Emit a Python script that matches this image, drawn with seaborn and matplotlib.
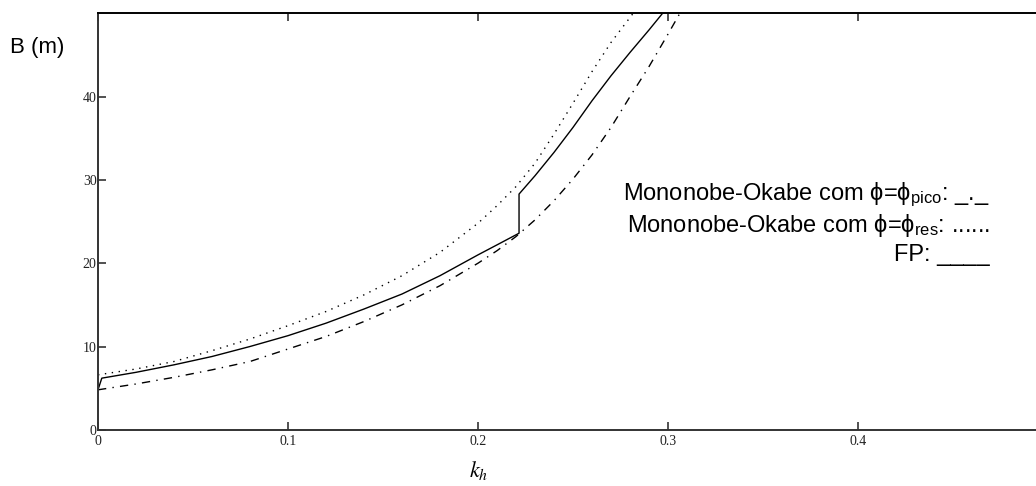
import numpy as np
import pandas as pd
import matplotlib
matplotlib.use("Agg")
import matplotlib.pyplot as plt
import seaborn as sns

# ---- data ----
k_pico = [0.0, 0.02, 0.04, 0.06, 0.08, 0.10, 0.12, 0.14, 0.16, 0.18, 0.20, 0.21, 0.22,
          0.23, 0.24, 0.25, 0.26, 0.27, 0.28, 0.29, 0.30, 0.31]
B_pico = [4.8, 5.5, 6.3, 7.2, 8.2, 9.7, 11.2, 13.0, 15.0, 17.3, 20.0, 21.5, 23.2,
          25.2, 27.5, 30.1, 33.0, 36.3, 40.0, 43.6, 47.5, 51.5]

k_res = [0.0, 0.02, 0.04, 0.06, 0.08, 0.10, 0.12, 0.14, 0.16, 0.18, 0.20, 0.21, 0.22,
         0.23, 0.24, 0.25, 0.26, 0.27, 0.28, 0.29]
B_res = [6.6, 7.3, 8.2, 9.5, 10.9, 12.5, 14.2, 16.2, 18.5, 21.3, 24.8, 26.9, 29.2,
         32.0, 35.5, 39.2, 43.0, 46.5, 49.5, 52.5]

k_fp = [0.0, 0.002, 0.02, 0.04, 0.06, 0.08, 0.10, 0.12, 0.14, 0.16, 0.18, 0.20, 0.21,
        0.2216, 0.2216, 0.23, 0.24, 0.25, 0.26, 0.27, 0.28, 0.29, 0.30]
B_fp = [4.8, 6.2, 6.9, 7.8, 8.8, 10.0, 11.3, 12.8, 14.5, 16.3, 18.5, 21.0, 22.2,
        23.6, 28.3, 30.5, 33.3, 36.3, 39.5, 42.5, 45.3, 48.0, 50.8]

x_ticks = [0.0, 0.1, 0.2, 0.3, 0.4]
x_ticklabels = ["0", "0.1", "0.2", "0.3", "0.4"]
y_ticks = [0, 10, 20, 30, 40]
y_ticklabels = ["0", "10", "20", "30", "40"]

legend_lines = [
    "Mononobe-Okabe com ϕ=ϕ$_{\\mathrm{pico}}$: _._",
    "Mononobe-Okabe com ϕ=ϕ$_{\\mathrm{res}}$: ......",
    "FP: ____",
]

sns.set_theme(style="white")
plt.rcParams["font.family"] = ["Liberation Sans", "DejaVu Sans"]
plt.rcParams["mathtext.fontset"] = "custom"
plt.rcParams["mathtext.rm"] = "Liberation Sans"
plt.rcParams["mathtext.it"] = "Liberation Sans:italic"
plt.rcParams["text.color"] = "black"

fig = plt.figure(figsize=(10.36, 4.86), dpi=100)
ax = fig.add_axes([98 / 1036, (486 - 429.8) / 486, 950 / 1036, 416.5 / 486])

df_pico = pd.DataFrame({"k": k_pico, "B": B_pico})
df_res = pd.DataFrame({"k": k_res, "B": B_res})
df_fp = pd.DataFrame({"k": k_fp, "B": B_fp})

lw = 1.0
sns.lineplot(data=df_pico, x="k", y="B", ax=ax, color="black", lw=lw,
             estimator=None, sort=False)
ax.lines[-1].set_dashes([6, 4.5, 1, 4.5])
sns.lineplot(data=df_res, x="k", y="B", ax=ax, color="black", lw=lw,
             estimator=None, sort=False)
ax.lines[-1].set_dashes([1, 4])
sns.lineplot(data=df_fp, x="k", y="B", ax=ax, color="black", lw=lw,
             estimator=None, sort=False)

ax.set_xlim(0, 0.5)
ax.set_ylim(0, 50)
ax.set_xticks(x_ticks)
ax.set_xticklabels(x_ticklabels)
ax.set_yticks(y_ticks)
ax.set_yticklabels(y_ticklabels)

ax.tick_params(axis="both", which="both", direction="in", length=6, width=1.2,
               color="#333333", labelsize=10, labelcolor="#222222")
ax.tick_params(axis="x", top=True, bottom=True, pad=4)
ax.tick_params(axis="y", left=True, right=False, pad=1)
for lab in ax.get_xticklabels() + ax.get_yticklabels():
    lab.set_fontfamily("Liberation Serif")

for side in ["left", "bottom", "top"]:
    ax.spines[side].set_visible(True)
    ax.spines[side].set_color("#333333")
    ax.spines[side].set_linewidth(1.4)
ax.spines["top"].set_color("black")
ax.spines["right"].set_visible(False)

ax.set_xlabel("")
ax.set_ylabel("")

fig.text(10 / 1036, 1 - 48 / 486, "B (m)", fontsize=16, ha="left", va="center",
         color="black", family=["Liberation Sans", "DejaVu Sans"])
fig.text(479 / 1036, 1 - 470 / 486, "$k_h$", fontsize=16, ha="center", va="center",
         color="black", math_fontfamily="stix")

ys = [195, 225, 255]
for s, y in zip(legend_lines, ys):
    fig.text(990 / 1036, 1 - y / 486, s, fontsize=17, ha="right", va="center",
             color="black", family=["Liberation Sans", "DejaVu Sans"])

fig.savefig("out.png", dpi=100)
